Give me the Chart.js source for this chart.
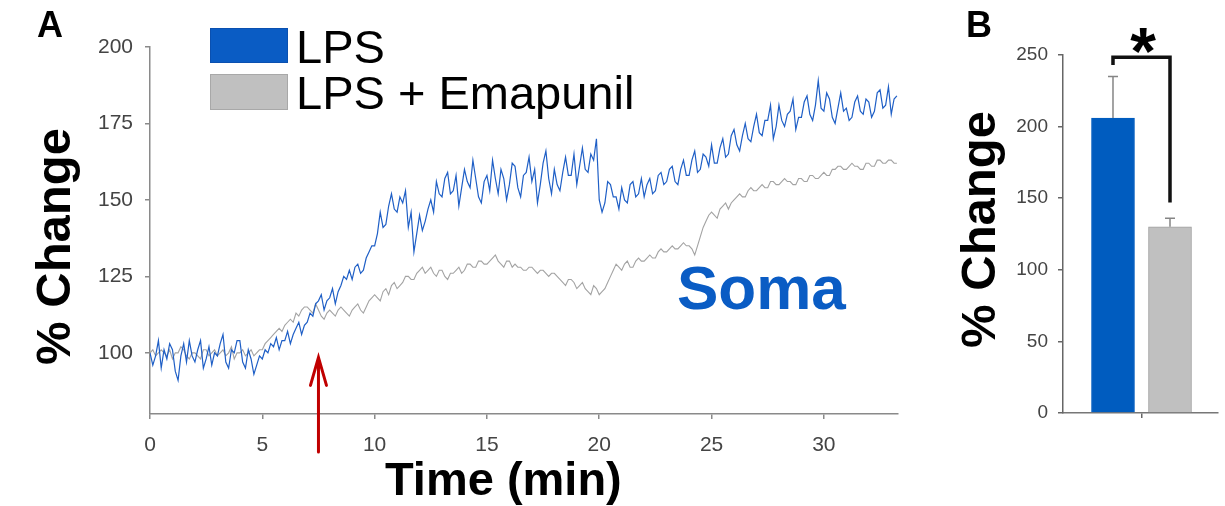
<!DOCTYPE html>
<html>
<head>
<meta charset="utf-8">
<script src="https://cdn.jsdelivr.net/npm/chart.js@4.4.1/dist/chart.umd.min.js"></script>
<style>
  body { margin: 0; background: #fff; width: 1225px; height: 506px; overflow: hidden; position: relative; }
  canvas { position: absolute; top: 0; }
  #traceChart { left: 0; }
  #barChart { left: 920px; }
  .t { position: absolute; font-family: "Liberation Sans", Arial, sans-serif; line-height: 1; white-space: nowrap; color: #000; }
  .b { font-weight: bold; }
  .rot { transform: rotate(-90deg); text-align: center; width: 300px; }
  .swatch { position: absolute; box-sizing: border-box; }
</style>
</head>
<body>
<canvas id="traceChart" width="920" height="506"></canvas>
<canvas id="barChart" width="305" height="506"></canvas>

<div class="t b" style="left:37px; top:7px; font-size:36px;">A</div>
<div class="t b" style="left:966px; top:7px; font-size:36px;">B</div>

<div class="swatch" style="left:210px; top:28px; width:78px; height:35px; background:#0a5cc4; border:1px solid #0a50b0;"></div>
<div class="swatch" style="left:210px; top:74px; width:78px; height:36px; background:#c0c0c0; border:1px solid #a8a8a8;"></div>
<div class="t" style="left:296px; top:23px; font-size:47px;">LPS</div>
<div class="t" style="left:296px; top:69px; font-size:47px;">LPS + Emapunil</div>

<div class="t b" style="left:677px; top:257px; font-size:62px; color:#0a5cc4;">Soma</div>
<div class="t b" style="left:385px; top:455px; font-size:47px;">Time (min)</div>
<div class="t b rot" style="left:-97px; top:222px; font-size:49px;">% Change</div>
<div class="t b rot" style="left:828px; top:205px; font-size:49px;">% Change</div>
<div class="t b" style="left:1113px; top:18px; width:60px; text-align:center; font-size:66px;">*</div>

<script>
// sample times (min) of the soma traces
const times = [
  0, 0.125, 0.25, 0.375, 0.5, 0.625, 0.75, 0.875,
  1, 1.125, 1.25, 1.375, 1.5, 1.625, 1.75, 1.875,
  2, 2.125, 2.25, 2.375, 2.5, 2.625, 2.75, 2.875,
  3, 3.125, 3.25, 3.375, 3.5, 3.625, 3.75, 3.875,
  4, 4.125, 4.25, 4.375, 4.5, 4.625, 4.75, 4.875,
  5, 5.125, 5.25, 5.375, 5.5, 5.625, 5.75, 5.875,
  6, 6.125, 6.25, 6.375, 6.5, 6.625, 6.75, 6.875,
  7, 7.125, 7.25, 7.375, 7.5, 7.625, 7.75, 7.875,
  8, 8.125, 8.25, 8.375, 8.5, 8.625, 8.75, 8.875,
  9, 9.125, 9.25, 9.375, 9.5, 9.625, 9.75, 9.875,
  10, 10.125, 10.25, 10.375, 10.5, 10.625, 10.75, 10.875,
  11, 11.125, 11.25, 11.375, 11.5, 11.625, 11.75, 11.875,
  12, 12.125, 12.25, 12.375, 12.5, 12.625, 12.75, 12.875,
  13, 13.125, 13.25, 13.375, 13.5, 13.625, 13.75, 13.875,
  14, 14.125, 14.25, 14.375, 14.5, 14.625, 14.75, 14.875,
  15, 15.125, 15.25, 15.375, 15.5, 15.625, 15.75, 15.875,
  16, 16.125, 16.25, 16.375, 16.5, 16.625, 16.75, 16.875,
  17, 17.125, 17.25, 17.375, 17.5, 17.625, 17.75, 17.875,
  18, 18.125, 18.25, 18.375, 18.5, 18.625, 18.75, 18.875,
  19, 19.125, 19.25, 19.375, 19.5, 19.625, 19.75, 19.875,
  20, 20.125, 20.25, 20.375, 20.5, 20.625, 20.75, 20.875,
  21, 21.125, 21.25, 21.375, 21.5, 21.625, 21.75, 21.875,
  22, 22.125, 22.25, 22.375, 22.5, 22.625, 22.75, 22.875,
  23, 23.125, 23.25, 23.375, 23.5, 23.625, 23.75, 23.875,
  24, 24.125, 24.25, 24.375, 24.5, 24.625, 24.75, 24.875,
  25, 25.125, 25.25, 25.375, 25.5, 25.625, 25.75, 25.875,
  26, 26.125, 26.25, 26.375, 26.5, 26.625, 26.75, 26.875,
  27, 27.125, 27.25, 27.375, 27.5, 27.625, 27.75, 27.875,
  28, 28.125, 28.25, 28.375, 28.5, 28.625, 28.75, 28.875,
  29, 29.125, 29.25, 29.375, 29.5, 29.625, 29.75, 29.875,
  30, 30.125, 30.25, 30.375, 30.5, 30.625, 30.75, 30.875,
  31, 31.125, 31.25, 31.375, 31.5, 31.625, 31.75, 31.875,
  32, 32.125, 32.25, 32.375, 32.5, 32.625, 32.75, 32.875,
  33, 33.125, 33.25
];

// % change, LPS alone
const lpsTrace = [
  100, 96, 99, 104, 95, 101, 98, 103,
  101, 94, 91, 99, 103, 97, 104, 99,
  97, 101, 104, 95, 98, 102, 96, 100,
  99, 103, 106, 97, 95, 101, 100, 104,
  104, 97, 95, 101, 98, 93, 96, 99,
  98, 101, 100, 103, 102, 105, 101, 104,
  104, 107, 103, 106, 108, 110, 106, 109,
  110, 113, 112, 116, 117, 119, 114, 117,
  118, 121, 116, 120, 122, 125, 124, 127,
  124, 128, 129, 126, 127, 131, 133, 135,
  135, 139, 146, 141, 142, 148, 152, 147,
  146, 151, 149, 153, 141, 146, 133, 139,
  145, 140, 143, 147, 150, 146, 156, 152,
  151, 157, 159, 152, 153, 158, 148, 154,
  160, 156, 154, 163, 157, 151, 149, 156,
  158, 153, 163, 157, 152, 160, 157, 150,
  155, 162, 161, 154, 151, 158, 159, 164,
  156, 160, 149, 155, 162, 166, 157, 152,
  160, 155, 153, 159, 164, 158, 158, 165,
  155, 161, 167, 160, 159, 165, 163, 170,
  150, 146, 149, 156, 155, 151, 151, 147,
  154, 150, 149, 155, 156, 151, 152, 157,
  151, 155, 157, 152, 153, 158, 159, 155,
  156, 160, 161, 156, 155, 160, 163, 158,
  158, 163, 166, 159, 160, 165, 164, 161,
  168, 162, 162, 167, 170, 164, 165, 171,
  173, 168, 166, 171, 175, 170, 169, 174,
  178, 172, 171, 176, 176, 181, 170, 174,
  181, 176, 174, 178, 179, 183, 173, 177,
  177, 182, 184, 178, 176, 181, 189, 180,
  179, 185, 183, 177, 175, 180, 185, 179,
  180, 176, 177, 182, 184, 179, 178, 183,
  182, 177, 179, 185, 186, 180, 181, 187,
  178, 183, 184
];

// % change, LPS + Emapunil
const emaTrace = [
  100, 101, 99, 100, 101, 100, 99, 101,
  98, 100, 100, 102, 101, 99, 98, 100,
  100, 99, 98, 101, 101, 99, 100, 101,
  99, 100, 101, 99, 100, 102, 98, 100,
  100, 101, 99, 100, 101, 99, 100, 101,
  101, 103, 104, 105, 106, 107, 108, 107,
  109, 110, 111, 110, 113, 112, 114, 115,
  115, 114, 113, 116, 114, 112, 111, 113,
  114, 113, 112, 114, 115, 114, 113, 112,
  114, 115, 116, 114, 113, 115, 117, 118,
  119, 118, 117, 120, 121, 119, 122, 123,
  121, 122, 123, 125, 125, 124, 124, 126,
  127, 128, 126, 127, 128, 126, 125, 127,
  127, 125, 124, 126, 126, 127, 128, 126,
  127, 129, 129, 128, 128, 130, 130, 129,
  129, 130, 131, 132, 130, 129, 128, 130,
  130, 128, 129, 128, 128, 127, 127, 128,
  128, 127, 126, 127, 127, 126, 125, 126,
  126, 125, 124, 123, 122, 124, 124, 123,
  121, 122, 123, 121, 120, 119, 122, 121,
  119, 120, 121, 123, 125, 127, 129, 128,
  127, 129, 130, 128, 128, 130, 131, 130,
  130, 131, 132, 131, 131, 133, 134, 133,
  133, 134, 135, 134, 134, 135, 136, 135,
  135, 134, 132, 135, 138, 141, 143, 145,
  146, 145, 144, 147, 148, 149, 147, 149,
  150, 151, 152, 151, 151, 153, 154, 153,
  153, 154, 155, 154, 154, 156, 156, 155,
  155, 156, 157, 156, 156, 155, 155, 157,
  157, 156, 156, 158, 158, 157, 157, 158,
  159, 158, 158, 160, 160, 161, 161, 160,
  160, 161, 162, 161, 161, 160, 160, 162,
  162, 161, 161, 163, 163, 162, 162, 163,
  163, 162, 162
];

const xTicksA = [0, 5, 10, 15, 20, 25, 30];
const yTicksA = [100, 125, 150, 175, 200];
const arrowTime = 7.5;

// panel B summary
const groups = ['LPS', 'LPS + Emapunil'];
const groupMeans = [206, 130];
const groupErrs = [29, 6];
const yTicksB = [0, 50, 100, 150, 200, 250];
const bracketLevels = [243, 248.5, 147]; // left foot, top, right foot

Chart.defaults.font.family = '"Liberation Sans", Arial, sans-serif';

const axisGrey = '#8a8a8a';

// red arrow marking the time of treatment
const arrowPlugin = {
  id: 'arrow',
  afterDraw(chart) {
    const { ctx, chartArea } = chart;
    const x = chart.scales.x.getPixelForValue(arrowTime);
    const tip = chart.scales.y.getPixelForValue(98.5);
    const bottom = chartArea.bottom + 38;
    ctx.save();
    ctx.strokeStyle = '#c00000';
    ctx.lineWidth = 3;
    ctx.lineCap = 'round';
    ctx.beginPath();
    ctx.moveTo(x, bottom);
    ctx.lineTo(x, tip + 2);
    ctx.moveTo(x - 8, tip + 28);
    ctx.lineTo(x, tip);
    ctx.lineTo(x + 8, tip + 28);
    ctx.stroke();
    ctx.restore();
  }
};

new Chart(document.getElementById('traceChart'), {
  type: 'line',
  data: {
    datasets: [
      {
        label: 'LPS',
        data: times.map((t, i) => ({ x: t, y: lpsTrace[i] })),
        borderColor: '#1f5fc6',
        borderWidth: 1.2,
        pointRadius: 0,
        tension: 0
      },
      {
        label: 'LPS + Emapunil',
        data: times.map((t, i) => ({ x: t, y: emaTrace[i] })),
        borderColor: '#a3a3a3',
        borderWidth: 1.1,
        pointRadius: 0,
        tension: 0
      }
    ]
  },
  options: {
    responsive: false,
    animation: false,
    layout: { padding: { left: 0, right: 22, top: 47, bottom: 0 } },
    plugins: { legend: { display: false }, tooltip: { enabled: false } },
    scales: {
      x: {
        type: 'linear',
        min: 0,
        max: 33.3,
        afterBuildTicks: s => { s.ticks = xTicksA.map(v => ({ value: v })); },
        afterFit: s => { s.height = 92; },
        ticks: { color: '#444', font: { size: 21 }, padding: 14, maxRotation: 0 },
        grid: { drawOnChartArea: false, drawTicks: true, tickLength: 5, color: axisGrey, lineWidth: 1.5 },
        border: { color: axisGrey, width: 1.5 }
      },
      y: {
        min: 80,
        max: 200,
        afterBuildTicks: s => { s.ticks = yTicksA.map(v => ({ value: v })); },
        afterFit: s => { s.width = 150; },
        ticks: { color: '#444', font: { size: 21 }, padding: 12 },
        grid: { drawOnChartArea: false, drawTicks: true, tickLength: 5, color: axisGrey, lineWidth: 1.5 },
        border: { color: axisGrey, width: 1.5 }
      }
    }
  },
  plugins: [arrowPlugin]
});

// error bars and significance bracket for panel B
const barExtras = {
  id: 'barExtras',
  afterDatasetsDraw(chart) {
    const { ctx } = chart;
    const xs = chart.scales.x;
    const ys = chart.scales.y;
    const bars = chart.getDatasetMeta(0).data;
    ctx.save();
    ctx.strokeStyle = '#858585';
    ctx.lineWidth = 1.5;
    bars.forEach((bar, i) => {
      const y0 = ys.getPixelForValue(groupMeans[i]);
      const y1 = ys.getPixelForValue(groupMeans[i] + groupErrs[i]);
      ctx.beginPath();
      ctx.moveTo(bar.x, y0);
      ctx.lineTo(bar.x, y1);
      ctx.moveTo(bar.x - 5, y1);
      ctx.lineTo(bar.x + 5, y1);
      ctx.stroke();
    });
    const xl = xs.getPixelForValue(1);
    const xr = xs.getPixelForValue(2);
    ctx.strokeStyle = '#111';
    ctx.lineWidth = 3.5;
    ctx.lineJoin = 'miter';
    ctx.beginPath();
    ctx.moveTo(xl, ys.getPixelForValue(bracketLevels[0]));
    ctx.lineTo(xl, ys.getPixelForValue(bracketLevels[1]));
    ctx.lineTo(xr, ys.getPixelForValue(bracketLevels[1]));
    ctx.lineTo(xr, ys.getPixelForValue(bracketLevels[2]));
    ctx.stroke();
    ctx.restore();
  }
};

new Chart(document.getElementById('barChart'), {
  type: 'bar',
  data: {
    datasets: [{
      label: '% Change',
      data: groups.map((g, i) => ({ x: i + 1, y: groupMeans[i] })),
      backgroundColor: ['#005cbf', '#c0c0c0'],
      borderColor: ['#005cbf', '#a0a0a0'],
      borderWidth: 1,
      barThickness: 43
    }]
  },
  options: {
    responsive: false,
    animation: false,
    layout: { padding: { left: 0, right: 7, top: 55, bottom: 0 } },
    plugins: { legend: { display: false }, tooltip: { enabled: false } },
    scales: {
      x: {
        type: 'linear',
        offset: false,
        min: 0.123,
        max: 2.842,
        afterBuildTicks: s => { s.ticks = [{ value: 1.5 }]; },
        afterFit: s => { s.height = 93; },
        ticks: { callback: () => '' },
        grid: { offset: false, drawOnChartArea: false, drawTicks: true, tickLength: 5, color: '#666', lineWidth: 1.5 },
        border: { color: '#777', width: 1.5 }
      },
      y: {
        min: 0,
        max: 250,
        afterBuildTicks: s => { s.ticks = yTicksB.map(v => ({ value: v })); },
        afterFit: s => { s.width = 143; },
        ticks: { color: '#444', font: { size: 19 }, padding: 10 },
        grid: { drawOnChartArea: false, drawTicks: true, tickLength: 5, color: '#666', lineWidth: 1.5 },
        border: { color: '#666', width: 1.5 }
      }
    }
  },
  plugins: [barExtras]
});
</script>
</body>
</html>
